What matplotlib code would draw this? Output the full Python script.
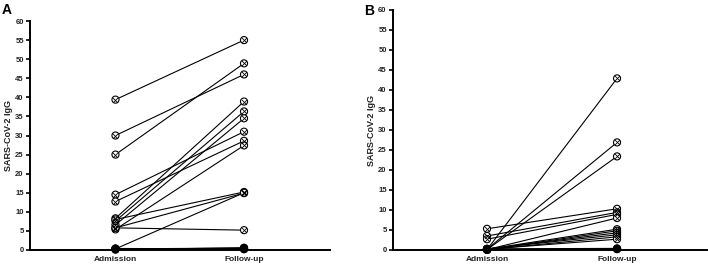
import matplotlib
matplotlib.use("Agg")
import matplotlib.pyplot as plt

plt.rcParams['font.family'] = ['Liberation Sans', 'DejaVu Sans']

categories = ["Admission", "Follow-up"]
yticks = list(range(0, 61, 5))

# Panel A: paired values (admission, follow-up)
a_adm = [39.4, 30.0, 25.0, 14.5, 12.7, 8.3, 7.6, 6.6, 8.0, 5.8, 5.4, 5.8, 0.3, 0.3, 0.2, 0.4, 0.1, 0.3]
a_fu  = [55.0, 46.0, 48.9, 31.0, 28.6, 38.9, 36.3, 34.5, 15.2, 14.9, 27.4, 5.2, 15.0, 0.5, 0.4, 0.3, 0.6, 0.2]

# Panel B
b_adm = [5.3, 3.5, 2.7, 0.1, 0.1, 0.2, 0.1, 0.2, 0.1, 0.2, 0.3, 0.1, 0.2, 0.1, 0.3, 0.2]
b_fu  = [10.3, 9.4, 8.9, 8.0, 42.9, 26.9, 23.4, 5.2, 4.8, 4.3, 3.8, 3.3, 2.7, 0.3, 0.4, 0.2]

W, H = 708, 266
fig = plt.figure(figsize=(W/100, H/100), dpi=100)

def panel(rect, adm, fu, xlim, letter, letter_xy, ylab_x):
    ax = fig.add_axes(rect)
    for a, f in zip(adm, fu):
        ax.plot([0, 1], [a, f], color='black', lw=0.8, zorder=2, clip_on=False)
    xs = [0]*len(adm) + [1]*len(fu)
    ys = list(adm) + list(fu)
    faces = ['black' if y < 1 else 'white' for y in ys]
    ax.scatter(xs, ys, s=26, facecolor=faces, edgecolor='black', linewidth=0.8, zorder=3, clip_on=False)
    ax.scatter(xs, ys, s=13, marker='x', color='black', linewidth=0.6, zorder=4, clip_on=False)
    ax.set_xlim(*xlim)
    ax.set_ylim(0, 60)
    ax.set_yticks(yticks)
    ax.set_yticklabels([str(v) for v in yticks], fontsize=5.5, fontweight='bold', color='#222222')
    ax.set_xticks([0, 1])
    ax.set_xticklabels(categories, fontsize=6, fontweight='bold', color='#222222')
    ax.tick_params(axis='x', length=0, pad=4)
    ax.tick_params(axis='y', length=3, width=1.2, pad=1.5)
    for s in ['top', 'right']:
        ax.spines[s].set_visible(False)
    for s in ['left', 'bottom']:
        ax.spines[s].set_linewidth(1.4)
    ax.set_ylabel("SARS-CoV-2 IgG", fontsize=6.5, fontweight='bold', color='#222222')
    ax.yaxis.set_label_coords(ylab_x, 0.5)
    fig.text(letter_xy[0]/W, 1 - letter_xy[1]/H, letter, fontsize=10, fontweight='bold', ha='left', va='center')
    return ax

panel([30/W, 16/H, 300/W, 229/H], a_adm, a_fu, (-0.665, 1.669), "A", (2, 10), -0.055)
panel([393/W, 16/H, 314/W, 240/H], b_adm, b_fu, (-0.723, 1.692), "B", (364, 11), -0.055)

fig.savefig("out.png", dpi=100)
